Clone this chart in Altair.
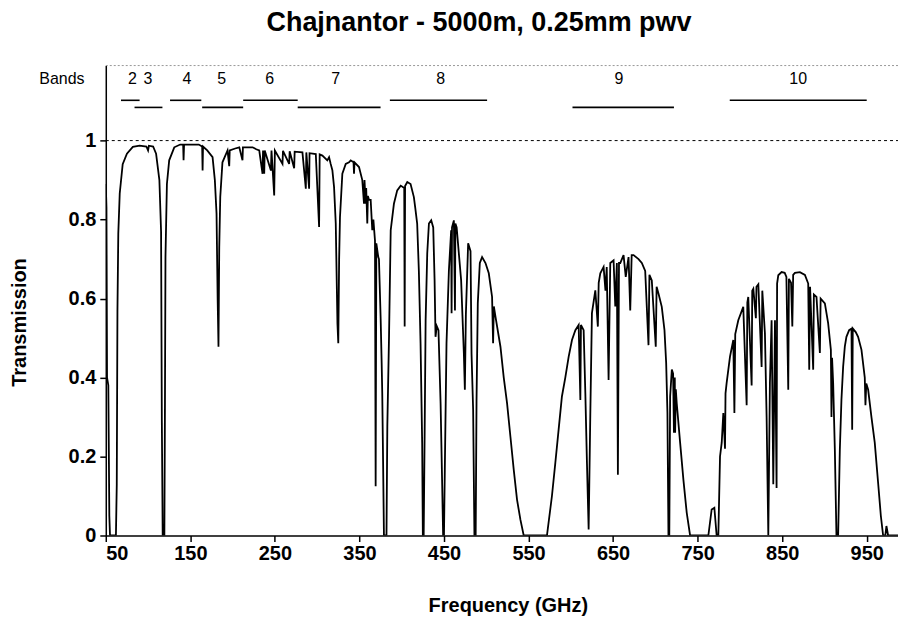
import altair as alt
import pandas as pd

# ---- spectrum ----
FREQ = [50.0, 50.8, 51.5, 53.0, 54.2, 55.0, 62.0, 63.0, 63.8, 64.8, 66.5, 70.0, 75.0, 82.0, 90.0, 98.0, 100.0, 101.0,
        106.0, 109.5, 113.4, 115.4, 116.3, 117.3, 119.3, 120.0, 120.6, 122.3, 125.0, 131.0, 138.0, 141.5, 142.0, 142.6,
        150.0, 160.0, 164.0, 164.5, 165.0, 170.0, 176.3, 179.0, 181.0, 182.3, 183.3, 184.2, 185.4, 188.0, 194.0, 196.0,
        196.6, 203.0, 207.9, 211.7, 212.2, 220.0, 223.6, 228.0, 231.5, 235.4, 236.0, 237.4, 238.0, 245.3, 246.0, 249.2,
        250.0, 259.0, 259.6, 266.9, 267.5, 272.8, 273.4, 282.6, 286.6, 287.2, 290.5, 291.0, 298.4, 302.3, 303.0, 306.2,
        312.0, 314.1, 316.0, 318.0, 320.0, 322.0, 324.0, 325.0, 326.0, 327.0, 329.8, 333.8, 337.7, 339.7, 343.0, 343.6,
        344.2, 349.5, 353.4, 355.4, 356.0, 357.4, 358.0, 359.3, 360.0, 361.3, 363.3, 365.2, 366.5, 368.4, 369.2, 370.0,
        372.3, 373.1, 375.1, 376.3, 377.0, 378.0, 379.0, 382.0, 383.0, 385.0, 387.0, 390.8, 394.7, 398.8, 403.0, 403.5,
        404.0, 406.6, 410.5, 414.4, 416.0, 418.3, 420.3, 422.3, 424.2, 425.0, 426.0, 427.1, 428.3, 430.2, 432.2, 434.9,
        437.3, 438.9, 440.0, 441.5, 443.5, 446.0, 447.9, 449.0, 450.0, 451.0, 453.0, 455.8, 458.5, 459.0, 459.5, 461.7,
        463.0, 463.5, 465.0, 467.6, 470.3, 473.5, 474.7, 475.9, 478.6, 481.4, 482.6, 484.5, 486.0, 487.5, 488.5, 490.0,
        492.4, 495.1, 499.1, 503.0, 506.9, 508.1, 509.0, 510.9, 516.8, 520.7, 524.6, 528.6, 532.5, 536.4, 540.4, 544.3,
        571.8, 577.7, 581.7, 585.6, 589.5, 593.5, 597.5, 601.4, 605.4, 609.3, 611.3, 612.0, 615.2, 617.2, 619.1, 621.1,
        623.1, 625.0, 629.0, 632.0, 633.0, 634.9, 638.8, 641.0, 642.5, 644.7, 646.7, 650.6, 652.6, 654.5, 655.7, 657.0,
        658.5, 662.4, 665.0, 668.3, 670.3, 672.0, 674.2, 680.1, 684.0, 688.0, 691.9, 693.0, 695.8, 700.5, 701.5, 703.7,
        707.6, 710.8, 712.8, 714.3, 715.5, 716.5, 717.5, 719.5, 721.0, 722.0, 723.0, 723.4, 724.2, 725.3, 729.3, 733.2,
        737.1, 741.1, 762.7, 766.6, 769.8, 772.5, 774.5, 776.5, 778.5, 780.4, 782.4, 783.0, 784.3, 788.3, 792.2, 793.5,
        794.5, 798.1, 804.0, 808.0, 808.8, 809.9, 813.9, 814.6, 815.9, 818.9, 819.6, 821.8, 825.7, 826.5, 829.6, 831.6,
        833.6, 835.5, 837.5, 839.5, 841.5, 843.4, 844.0, 845.4, 849.3, 853.0, 855.0, 857.2, 858.0, 860.5, 862.0, 863.0,
        865.1, 871.0, 876.9, 880.8, 882.0, 883.0, 886.7, 887.5, 890.6, 894.6, 895.5, 900.5, 904.4, 907.6, 908.3, 909.0,
        910.3, 912.3, 914.2, 916.2, 918.2, 920.1, 922.1, 924.1, 926.0, 929.2, 932.0, 932.8, 933.5, 937.0, 939.8, 943.8,
        947.7, 948.5, 949.5, 951.7, 955.6, 959.5, 963.5, 966.7, 969.4, 972.0, 973.3, 975.3, 1000.0]
TRANS = [0.89, 0.83, 0.40, 0.38, 0.05, 0.0, 0.0, 0.13, 0.57, 0.765, 0.866, 0.94, 0.967, 0.984, 0.987, 0.985, 0.975, 0.987,
         0.985, 0.967, 0.90, 0.77, 0.29, 0.0, 0.0, 0.34, 0.705, 0.89, 0.95, 0.983, 0.99, 0.99, 0.95, 0.99,
         0.99, 0.99, 0.985, 0.924, 0.985, 0.975, 0.958, 0.90, 0.815, 0.60, 0.478, 0.73, 0.857, 0.945, 0.975, 0.935,
         0.975, 0.98, 0.983, 0.95, 0.983, 0.983, 0.983, 0.978, 0.975, 0.916, 0.975, 0.916, 0.975, 0.924, 0.975, 0.861,
         0.975, 0.941, 0.974, 0.941, 0.973, 0.93, 0.972, 0.97, 0.878, 0.97, 0.878, 0.968, 0.966, 0.781, 0.965, 0.962,
         0.95, 0.958, 0.941, 0.925, 0.882, 0.79, 0.537, 0.487, 0.70, 0.806, 0.916, 0.941, 0.945, 0.95, 0.945, 0.916,
         0.945, 0.933, 0.90, 0.84, 0.90, 0.84, 0.88, 0.79, 0.86, 0.85, 0.85, 0.773, 0.80, 0.747, 0.125, 0.74,
         0.705, 0.70, 0.55, 0.437, 0.36, 0.184, 0.0, 0.0, 0.276, 0.503, 0.773, 0.84, 0.874, 0.886, 0.88, 0.529,
         0.885, 0.895, 0.89, 0.857, 0.83, 0.79, 0.67, 0.487, 0.235, 0.0, 0.0, 0.25, 0.545, 0.714, 0.79, 0.798,
         0.78, 0.646, 0.503, 0.53, 0.52, 0.335, 0.125, 0.0, 0.0, 0.167, 0.487, 0.67, 0.773, 0.563, 0.78, 0.798,
         0.57, 0.79, 0.78, 0.714, 0.646, 0.462, 0.369, 0.56, 0.74, 0.72, 0.46, 0.318, 0.0, 0.0, 0.34, 0.588,
         0.69, 0.705, 0.69, 0.664, 0.604, 0.487, 0.58, 0.554, 0.478, 0.40, 0.335, 0.25, 0.167, 0.091, 0.04, 0.0,
         0.0, 0.10, 0.184, 0.268, 0.352, 0.40, 0.453, 0.495, 0.52, 0.533, 0.343, 0.533, 0.52, 0.36, 0.184, 0.015,
         0.31, 0.563, 0.621, 0.529, 0.64, 0.664, 0.68, 0.62, 0.68, 0.394, 0.69, 0.697, 0.58, 0.69, 0.154, 0.69,
         0.69, 0.71, 0.655, 0.705, 0.57, 0.71, 0.71, 0.70, 0.69, 0.67, 0.482, 0.66, 0.646, 0.478, 0.63, 0.613,
         0.579, 0.52, 0.437, 0.31, 0.0, 0.0, 0.352, 0.42, 0.41, 0.26, 0.40, 0.26, 0.37, 0.335, 0.235, 0.141,
         0.058, 0.0, 0.0, 0.066, 0.07, 0.0, 0.0, 0.2, 0.235, 0.31, 0.22, 0.36, 0.386, 0.453, 0.495, 0.31,
         0.51, 0.545, 0.579, 0.33, 0.59, 0.604, 0.38, 0.62, 0.625, 0.55, 0.63, 0.636, 0.427, 0.62, 0.512, 0.30,
         0.0, 0.386, 0.545, 0.13, 0.545, 0.12, 0.638, 0.659, 0.667, 0.665, 0.655, 0.369, 0.65, 0.64, 0.529, 0.66,
         0.665, 0.667, 0.66, 0.638, 0.42, 0.63, 0.42, 0.61, 0.604, 0.462, 0.60, 0.588, 0.537, 0.47, 0.30, 0.45,
         0.386, 0.217, 0.0, 0.0, 0.217, 0.343, 0.427, 0.478, 0.503, 0.52, 0.524, 0.268, 0.524, 0.515, 0.503, 0.47,
         0.40, 0.33, 0.385, 0.369, 0.30, 0.235, 0.133, 0.05, 0.0, 0.0, 0.024, 0.0, 0.0]

# ---- receiver bands ----
BAND_NAMES = ["2", "3", "4", "5", "6", "7", "8", "9", "10"]
BAND_START = [68, 84, 126, 164, 212.5, 277, 386, 602, 788]
BAND_END = [90, 117, 163, 212.5, 277, 375, 501, 722, 950]
BAND_ROW = [1.102, 1.084, 1.102, 1.084, 1.102, 1.084, 1.102, 1.084, 1.102]
BAND_LABEL_X = [81.5, 100, 146, 187, 244, 322, 446, 657, 869]
BAND_LABEL_Y = [1.157] * 9

X_TICKS = [50, 150, 250, 350, 450, 550, 650, 750, 850, 950]
Y_TICKS = [0, 0.2, 0.4, 0.6, 0.8, 1]

FONT = "Liberation Sans"
W, H = 794, 471
XDOM = [50, 987]
YDOM = [0, 1.19]

spec = pd.DataFrame({"freq": FREQ, "trans": TRANS})
bands = pd.DataFrame({"name": BAND_NAMES, "start": BAND_START, "end": BAND_END, "row": BAND_ROW,
                      "lx": BAND_LABEL_X, "ly": BAND_LABEL_Y})

xscale = alt.Scale(domain=XDOM, nice=False, zero=False)
yscale = alt.Scale(domain=YDOM, nice=False)

xaxis = alt.Axis(values=X_TICKS, title="Frequency (GHz)", grid=False, tickSize=6, labelPadding=2,
                 titleX=403, titleY=70, titleBaseline="middle", titleAnchor="middle")
yaxis = alt.Axis(values=Y_TICKS, format="~g", title="Transmission", grid=False, tickSize=6, labelPadding=4,
                 titleX=-86, titleY=257, titleBaseline="middle", titleAngle=-90, titleAnchor="middle")

line = alt.Chart(spec).mark_line(color="black", strokeWidth=1.8, clip=True).encode(
    x=alt.X("freq:Q", scale=xscale, axis=xaxis),
    y=alt.Y("trans:Q", scale=yscale, axis=yaxis),
)

ref = alt.Chart(pd.DataFrame({"v": [1.0]})).mark_rule(color="black", strokeDash=[3, 3], strokeWidth=1).encode(
    y=alt.Y("v:Q", scale=yscale), x=alt.value(0), x2=alt.value(W)
)

top = alt.Chart(pd.DataFrame({"v": [YDOM[1]]})).mark_rule(color="#999999", strokeDash=[2, 2], strokeWidth=1).encode(
    y=alt.Y("v:Q", scale=yscale), x=alt.value(0), x2=alt.value(W)
)

band_lines = alt.Chart(bands).mark_rule(color="black", strokeWidth=1.6).encode(
    x=alt.X("start:Q", scale=xscale), x2="end:Q", y=alt.Y("row:Q", scale=yscale)
)

band_text = alt.Chart(bands).mark_text(font=FONT, fontSize=16, color="black", baseline="middle").encode(
    x=alt.X("lx:Q", scale=xscale), y=alt.Y("ly:Q", scale=yscale), text="name:N"
)

bands_word = alt.Chart(pd.DataFrame({"t": ["Bands"]})).mark_text(
    font=FONT, fontSize=16, color="black", baseline="middle", align="center").encode(
    x=alt.value(-44), y=alt.value(13), text="t:N"
)

title = alt.Chart(pd.DataFrame({"t": ["Chajnantor - 5000m, 0.25mm pwv"]})).mark_text(
    font=FONT, fontSize=27, fontWeight="bold", color="black", baseline="middle", align="center").encode(
    x=alt.value(374), y=alt.value(-43), text="t:N"
)

chart = alt.layer(line, ref, top, band_lines, band_text, bands_word, title).properties(
    width=W, height=H,
    autosize=alt.AutoSizeParams(type="none"),
    padding={"left": 98, "top": 57, "right": 0, "bottom": 80},
).configure_view(stroke=None).configure_axis(
    domainColor="black", domainWidth=1.5, tickColor="black", tickWidth=1.5,
    labelFont=FONT, labelFontSize=20, labelFontWeight="bold", labelColor="black",
    titleFont=FONT, titleFontSize=20, titleFontWeight="bold", titleColor="black",
)

chart.save("out.html", embed_options={"renderer": "svg", "actions": False})
